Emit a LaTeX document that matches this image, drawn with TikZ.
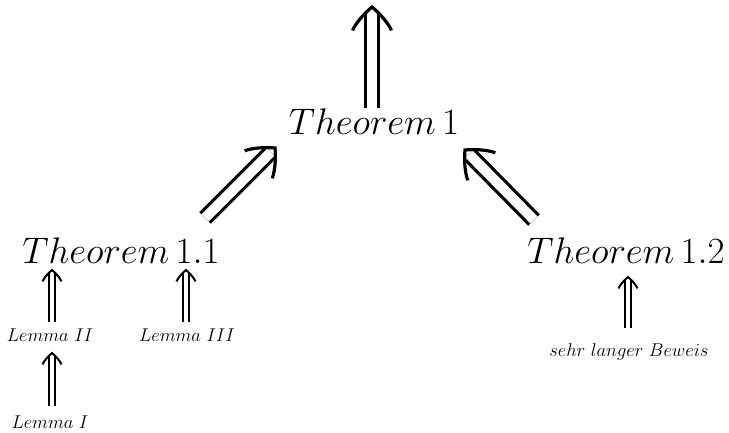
\documentclass[tikz,border=0pt]{standalone}
\usetikzlibrary{calc}
\begin{document}
\begin{tikzpicture}[x=1pt,y=1pt,
  big/.style={font=\Huge, scale=1.487, transform shape, inner sep=0pt, anchor=base},
  small/.style={font=\LARGE, scale=1.07, transform shape, inner sep=0pt, anchor=base},
  bigline/.style={double, double distance=10pt, line width=3.2pt, shorten >=6pt},
  smallline/.style={double, double distance=4.5pt, line width=2pt, shorten >=3pt},
  imphead/.pic={\draw (-1,-1.2) .. controls (-0.8,-0.77) and (-0.35,-0.29) .. (0,0)
     .. controls (0.35,-0.29) and (0.8,-0.77) .. (1,-1.2);},
  bighead/.style={scale=19.5, line width=3.2pt},
  smallhead/.style={scale=9.5, line width=2pt}]
\useasboundingbox (0,0) rectangle (729,432);
\node[big] (t1) at (374,297) {$Theorem\,1$};
\node[big] (t11) at (121,169) {$Theorem\,1.1$};
\node[big] (t12) at (626,169) {$Theorem\,1.2$};
\node[small] (l2) at (50,91) {$Lemma\ II$};
\node[small] (l3) at (187,91) {$Lemma\ III$};
\node[small] (l1) at (50,4) {$Lemma\ I$};
\node[small] (bw) at (629,76) {$sehr\ langer\ Beweis$};
\coordinate (top) at (372,425);
\path ($(t1.base)+(-99,-13)$) coordinate (tL)
      ($(t1.base)+(91,-15)$) coordinate (tR)
      ($(t11.base)+(-69,-7)$) coordinate (s1)
      ($(l2.base)+(2,-12)$) coordinate (s2)
      ($(t11.base)+(65,-7)$) coordinate (s3)
      ($(t12.base)+(2,-14)$) coordinate (s4);
\draw[bigline] ($(t1.base)+(-2,27)$) -- (top);
\draw[bigline] ($(t11.base)+(84,45)$) -- (tL);
\draw[bigline] ($(t12.base)+(-92,43)$) -- (tR);
\draw[smallline] ($(l2.base)+(2,19)$) -- (s1);
\draw[smallline] ($(l1.base)+(2,22)$) -- (s2);
\draw[smallline] ($(l3.base)+(-1,19)$) -- (s3);
\draw[smallline] ($(bw.base)+(-1,28)$) -- (s4);
\pic[bighead] at (top) {imphead};
\pic[bighead, rotate=-45] at (tL) {imphead};
\pic[bighead, rotate=45] at (tR) {imphead};
\pic[smallhead] at (s1) {imphead};
\pic[smallhead] at (s2) {imphead};
\pic[smallhead] at (s3) {imphead};
\pic[smallhead] at (s4) {imphead};
\end{tikzpicture}
\end{document}
